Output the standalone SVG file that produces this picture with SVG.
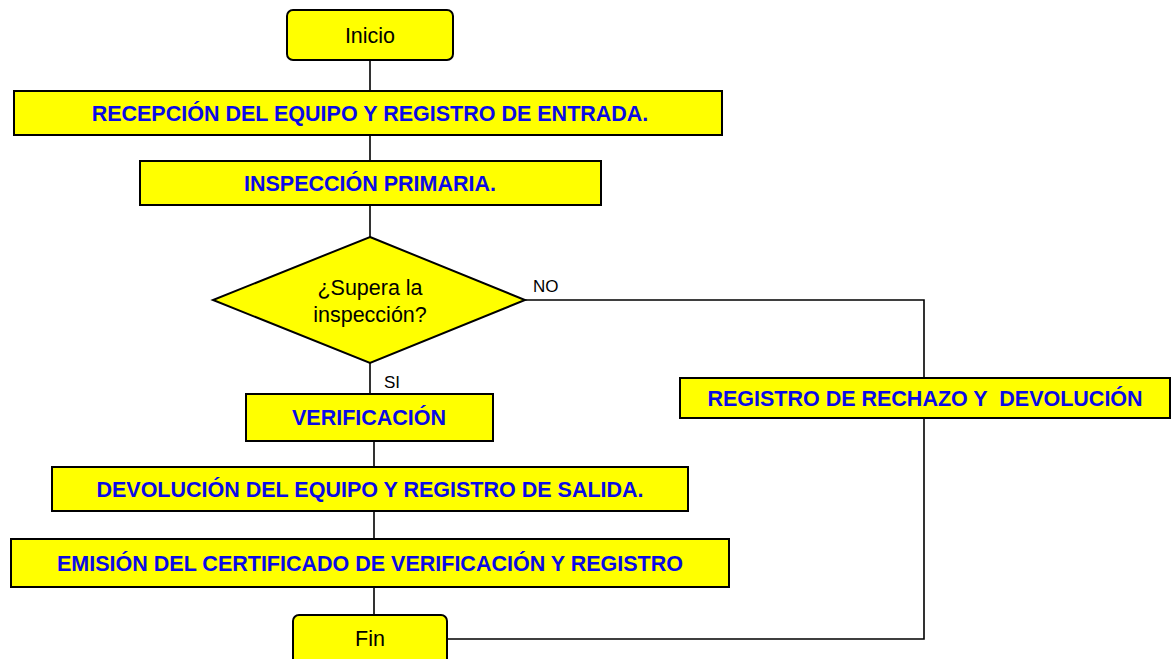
<svg xmlns="http://www.w3.org/2000/svg" width="1176" height="659" viewBox="0 0 1176 659">
<style>
.box{fill:#ffff00;stroke:#000;stroke-width:2}
.t{font-family:"Liberation Sans",Arial,sans-serif;font-size:21.5px;font-weight:bold;fill:#0a0ae6;text-anchor:middle;white-space:pre}
.n{font-family:"Liberation Sans",Arial,sans-serif;font-size:21.5px;fill:#000;text-anchor:middle}
.l{font-family:"Liberation Sans",Arial,sans-serif;font-size:17px;fill:#000}
.c{fill:none;stroke:#000;stroke-width:1.6}
</style>
<rect width="1176" height="659" fill="#fff"/>
<g id="connectors">
<path class="c" d="M370 60V91M370 135V161M370 205V237M370 363V394M374 441V467M374 511V539M374 587V615"/>
<path class="c" d="M525 300H924V378"/>
<path class="c" d="M924 418V639H447"/>
<text class="l" x="533" y="292">NO</text>
<text class="l" x="384" y="388">SI</text>
</g>
<g id="inicio"><rect class="box" x="287" y="10" width="166" height="50" rx="6"/><text class="n" x="370" y="43">Inicio</text></g>
<g id="recepcion"><rect class="box" x="14" y="91" width="708" height="44"/><text class="t" x="370" y="121">RECEPCIÓN DEL EQUIPO Y REGISTRO DE ENTRADA.</text></g>
<g id="inspeccion"><rect class="box" x="140" y="161" width="461" height="44"/><text class="t" x="370" y="191">INSPECCIÓN PRIMARIA.</text></g>
<g id="decision"><polygon class="box" points="370,237 525,300 370,363 213,300"/><text class="n" x="370" y="295">¿Supera la</text><text class="n" x="370" y="322">inspección?</text></g>
<g id="rechazo"><rect class="box" x="680" y="378" width="490" height="40"/><text class="t" x="925" y="406" xml:space="preserve">REGISTRO DE RECHAZO Y  DEVOLUCIÓN</text></g>
<g id="verificacion"><rect class="box" x="246" y="394" width="247" height="47"/><text class="t" x="369" y="425">VERIFICACIÓN</text></g>
<g id="devolucion"><rect class="box" x="52" y="467" width="636" height="44"/><text class="t" x="370" y="497">DEVOLUCIÓN DEL EQUIPO Y REGISTRO DE SALIDA.</text></g>
<g id="emision"><rect class="box" x="11" y="539" width="718" height="48"/><text class="t" x="370" y="571">EMISIÓN DEL CERTIFICADO DE VERIFICACIÓN Y REGISTRO</text></g>
<g id="fin"><rect class="box" x="293" y="615" width="154" height="54" rx="6"/><text class="n" x="370" y="646">Fin</text></g>
</svg>
